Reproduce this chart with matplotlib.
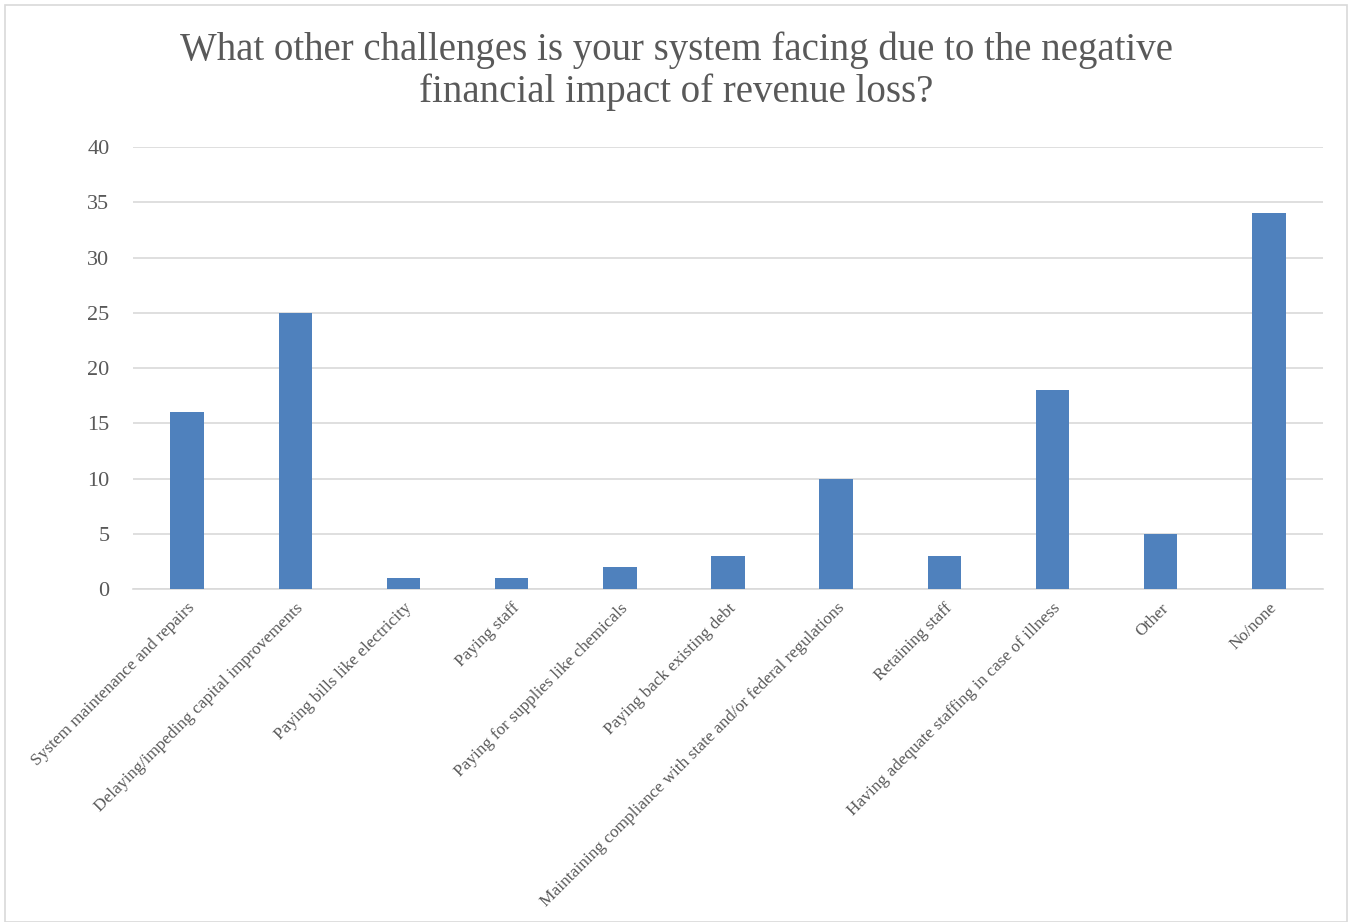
import matplotlib
matplotlib.use("Agg")
import matplotlib.pyplot as plt
from matplotlib.patches import Rectangle

categories = [
    "System maintenance and repairs",
    "Delaying/impeding capital improvements",
    "Paying bills like electricity",
    "Paying staff",
    "Paying for supplies like chemicals",
    "Paying back existing debt",
    "Maintaining compliance with state and/or federal regulations",
    "Retaining staff",
    "Having adequate staffing in case of illness",
    "Other",
    "No/none",
]
values = [16, 25, 1, 1, 2, 3, 10, 3, 18, 5, 34]
yticks = [0, 5, 10, 15, 20, 25, 30, 35, 40]
title = "What other challenges is your system facing due to the negative\nfinancial impact of revenue loss?"

W, H = 1352, 922
fig = plt.figure(figsize=(W / 100, H / 100), dpi=100)
plt.rcParams['font.family'] = ['Liberation Serif', 'DejaVu Serif']
txt = '#595959'

fig.patches.append(Rectangle((5 / W, 0), (W - 10) / W, (H - 5) / H, transform=fig.transFigure,
                             fill=False, edgecolor='#D9D9D9', linewidth=1.2))

ax = fig.add_axes([133 / W, 1 - 589 / H, 1190 / W, 442 / H])
x = list(range(len(categories)))
ax.bar(x, values, width=0.31, color='#4F81BD', zorder=3)
ax.set_xlim(-0.5, len(categories) - 0.5)
ax.set_ylim(0, 40)
ax.set_yticks(yticks)
ax.yaxis.grid(True, color='#D9D9D9', linewidth=1.2, zorder=0)
ax.set_axisbelow(True)
for s in ['top', 'right', 'left']:
    ax.spines[s].set_visible(False)
ax.spines['bottom'].set_color('#D9D9D9')
ax.spines['bottom'].set_linewidth(1.2)
ax.tick_params(axis='both', length=0, colors=txt)
ax.tick_params(axis='y', labelsize=16, pad=17)
ax.set_xticks(x)
ax.set_xticklabels(categories, rotation=45, ha='right', rotation_mode='anchor', fontsize=12.4, color=txt)
ax.tick_params(axis='x', pad=8)

fig.text(0.5, 1 - 71 / H, title, ha='center', va='center', fontsize=28, color=txt, linespacing=1.15)

fig.savefig('out.png', dpi=100)
